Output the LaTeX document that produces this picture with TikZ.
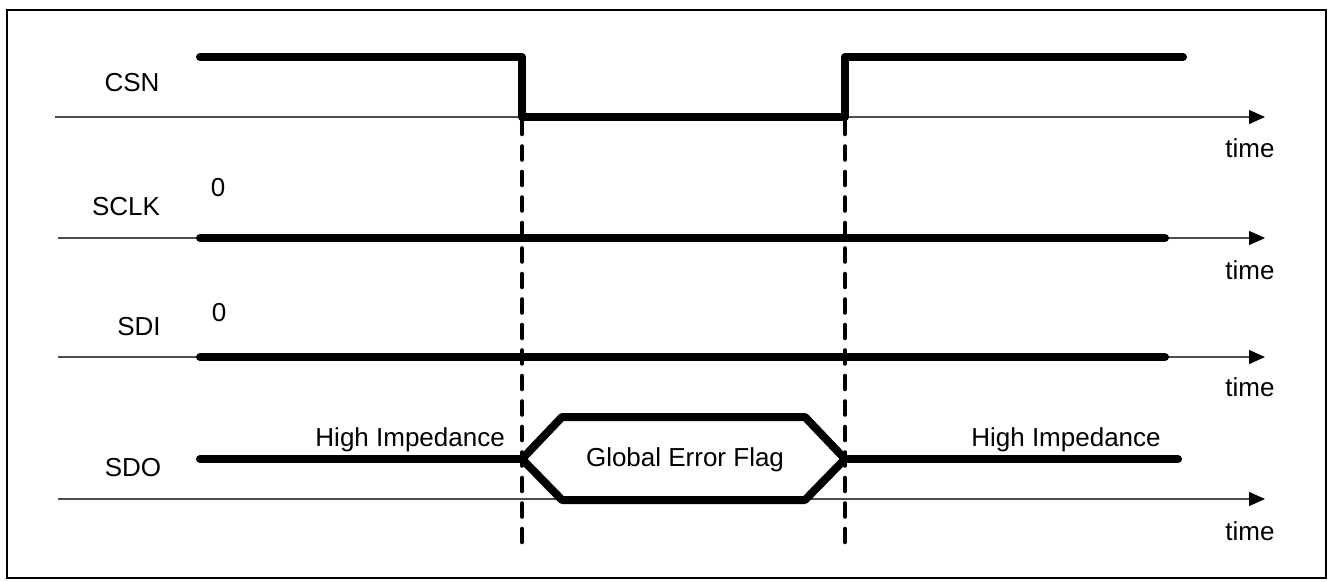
\documentclass[tikz,border=0pt]{standalone}
\usepackage{fontspec}
\setmainfont{Liberation Sans}
\usetikzlibrary{arrows.meta}
\begin{document}
\begin{tikzpicture}[x=1pt,y=-1pt,
  sig/.style={line width=8pt, line cap=round, line join=round},
  axisline/.style={line width=1.2pt, draw=black!70, -{Triangle[length=16pt,width=14pt,fill=black,color=black]}},
  lbl/.style={font=\fontsize{26}{30}\selectfont, inner sep=0pt},
  guide/.style={line width=4.6pt, line cap=round, dash pattern=on 13pt off 12.5pt}]
\useasboundingbox (0,0) rectangle (1332,581);
\draw[line width=1.5pt] (7,10) rectangle (1326,578);

% guide lines
\coordinate (g1t) at (522,121); \coordinate (g1b) at (522,546);
\coordinate (g2t) at (845,121); \coordinate (g2b) at (845,546);
\draw[guide] (g1t) -- (g1b);
\draw[guide] (g2t) -- (g2b);

% axes
\coordinate (a1s) at (55,117);  \coordinate (a1e) at (1265,117);
\coordinate (a2s) at (58,238);  \coordinate (a2e) at (1265,238);
\coordinate (a3s) at (58,357);  \coordinate (a3e) at (1265,357);
\coordinate (a4s) at (58,499);  \coordinate (a4e) at (1265,499);
\draw[axisline] (a1s) -- (a1e);
\draw[axisline] (a2s) -- (a2e);
\draw[axisline] (a3s) -- (a3e);
\draw[axisline] (a4s) -- (a4e);

% CSN
\coordinate (c1) at (200,57); \coordinate (c2) at (522,57);
\coordinate (c3) at (522,117); \coordinate (c4) at (845,117);
\coordinate (c5) at (845,57); \coordinate (c6) at (1183,57);
\draw[sig] (c1) -- (c2) -- (c3) -- (c4) -- (c5) -- (c6);

% SCLK, SDI
\coordinate (k1) at (200,238); \coordinate (k2) at (1165,238);
\draw[sig] (k1) -- (k2);
\coordinate (d1) at (200,357); \coordinate (d2) at (1165,357);
\draw[sig] (d1) -- (d2);

% SDO
\coordinate (o1) at (200,459); \coordinate (o2) at (522,459);
\coordinate (h1) at (562,417); \coordinate (h2) at (805,417);
\coordinate (h3) at (845,459); \coordinate (h4) at (805,500);
\coordinate (h5) at (562,500);
\coordinate (o3) at (1178,459);
\draw[sig] (o1) -- (o2);
\draw[sig] (o2) -- (h1) -- (h2) -- (h3) -- (h4) -- (h5) -- cycle;
\draw[sig] (h3) -- (o3);

% labels
\node[lbl] (lcsn) at (132,83) {CSN};
\node[lbl] (lsclk) at (126,207) {SCLK};
\node[lbl] (lsdi) at (139,327) {SDI};
\node[lbl] (lsdo) at (133,468) {SDO};
\node[lbl] (z1) at (218,188) {0};
\node[lbl] (z2) at (219,313) {0};
\node[lbl] (t1) at (1250,148) {time};
\node[lbl] (t2) at (1250,270) {time};
\node[lbl] (t3) at (1250,387) {time};
\node[lbl] (t4) at (1250,531) {time};
\node[lbl,anchor=east] (hz1) at (505,440) {High Impedance};
\node[lbl] (hz2) at (1066,440) {High Impedance};
\node[lbl] (gef) at (685,460) {Global Error Flag};
\end{tikzpicture}
\end{document}
